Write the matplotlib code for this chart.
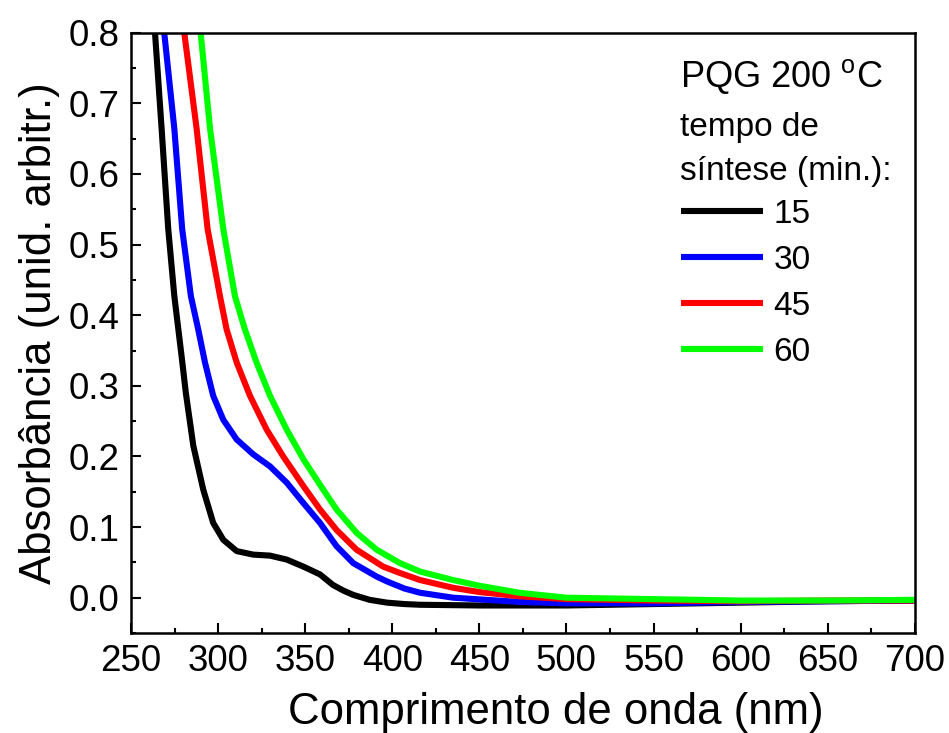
import matplotlib
matplotlib.use("Agg")
import matplotlib.pyplot as plt
from matplotlib.ticker import MultipleLocator

plt.rcParams['font.family'] = ['Liberation Sans', 'DejaVu Sans']
plt.rcParams['mathtext.fontset'] = 'custom'
plt.rcParams['mathtext.rm'] = 'Liberation Sans'

# absorbance spectra (wavelength in nm)
wl_15 = [262, 263.8, 267.6, 271.4, 274.9, 277.2, 279.4, 281.5, 285.8, 291.5, 297.2, 303,
         310.7, 320.2, 329.8, 339.4, 349, 358.5, 366, 372, 377.6, 387, 397, 407, 416, 450,
         500, 550, 600, 650, 700]
abs_15 = [0.84, 0.8, 0.664, 0.522, 0.427, 0.38, 0.335, 0.29, 0.215, 0.153, 0.106, 0.082,
          0.066, 0.061, 0.0596, 0.054, 0.044, 0.033, 0.018, 0.01, 0.004, -0.003, -0.007,
          -0.009, -0.01, -0.011, -0.011, -0.009, -0.007, -0.005, -0.004]

wl_30 = [268, 269.1, 274.9, 279.4, 284.4, 288.6, 292.5, 297.2, 303, 310.7, 320.2, 329.8,
         339.4, 349, 358.5, 368, 377.6, 391, 397, 407, 416, 435, 473, 500, 550, 600, 650, 700]
abs_30 = [0.84, 0.8, 0.664, 0.522, 0.427, 0.38, 0.333, 0.286, 0.252, 0.224, 0.203, 0.186,
          0.163, 0.134, 0.106, 0.073, 0.049, 0.030, 0.023, 0.013, 0.007, 0.0, -0.006, -0.008,
          -0.008, -0.006, -0.005, -0.004]

wl_45 = [279, 280.6, 287.7, 294, 301.1, 304.9, 310.7, 318.3, 327.9, 337.4, 349, 358.5, 368,
         379.5, 394.8, 404.4, 416, 435, 450, 473, 500, 550, 600, 650, 700]
abs_45 = [0.85, 0.8, 0.664, 0.522, 0.427, 0.38, 0.333, 0.286, 0.238, 0.2, 0.158, 0.125,
          0.096, 0.068, 0.044, 0.035, 0.025, 0.014, 0.008, 0.002, -0.002, -0.004, -0.005,
          -0.004, -0.004]

wl_60 = [288.5, 290, 295.4, 303, 309.7, 315.4, 322.1, 329.8, 339.4, 349, 358.5, 368, 379.5,
         391, 404.4, 416, 435, 450, 473, 500, 550, 600, 650, 700]
abs_60 = [0.84, 0.8, 0.664, 0.522, 0.427, 0.38, 0.333, 0.286, 0.238, 0.196, 0.16, 0.125,
          0.092, 0.068, 0.049, 0.037, 0.025, 0.017, 0.007, 0.0, -0.002, -0.004, -0.004,
          -0.003]

series = [("15", wl_15, abs_15, "#000000"),
          ("30", wl_30, abs_30, "#0000ff"),
          ("45", wl_45, abs_45, "#ff0000"),
          ("60", wl_60, abs_60, "#00ff00")]

fig = plt.figure(figsize=(9.49, 7.33), dpi=100)
ax = fig.add_axes([0.138, 0.1364, 0.826, 0.819])

for lab, x, y, c in series:
    ax.plot(x, y, color=c, lw=4.4, label=lab, solid_capstyle='butt', solid_joinstyle='round')

ax.set_xlim(250, 700)
ax.set_ylim(-0.05, 0.8)
ax.xaxis.set_major_locator(MultipleLocator(50))
ax.xaxis.set_minor_locator(MultipleLocator(25))
ax.yaxis.set_major_locator(MultipleLocator(0.1))
ax.yaxis.set_minor_locator(MultipleLocator(0.05))
ax.yaxis.set_major_formatter(plt.FormatStrFormatter('%.1f'))
ax.tick_params(which='both', direction='in', top=False, right=False, width=1.5,
               labelsize=26.5)
ax.tick_params(axis='y', pad=8.5)
ax.tick_params(axis='x', pad=8)
ax.tick_params(which='major', length=7)
ax.tick_params(which='minor', length=3.5)
for s in ax.spines.values():
    s.set_linewidth(1.8)

ax.set_xlabel('Comprimento de onda (nm)', fontsize=31.5, labelpad=9)
ax.xaxis.label.set_x(0.542)
ax.set_ylabel('Absorbância (unid. arbitr.)', fontsize=31.5, labelpad=6)

ax.text(0.700, 0.927, r'PQG 200 $^{\mathrm{o}}$C', transform=ax.transAxes,
        fontsize=26, va='center', ha='left')
ax.text(0.700, 0.842, 'tempo de', transform=ax.transAxes, fontsize=24,
        va='center', ha='left')
ax.text(0.700, 0.768, 'síntese (min.):', transform=ax.transAxes, fontsize=24,
        va='center', ha='left')

ax.legend(loc='upper left', bbox_to_anchor=(0.685, 0.745), frameon=False,
          fontsize=24, handlelength=2.46, handletextpad=0.3, labelspacing=0.45,
          borderaxespad=0)

fig.savefig('out.png', dpi=100)
